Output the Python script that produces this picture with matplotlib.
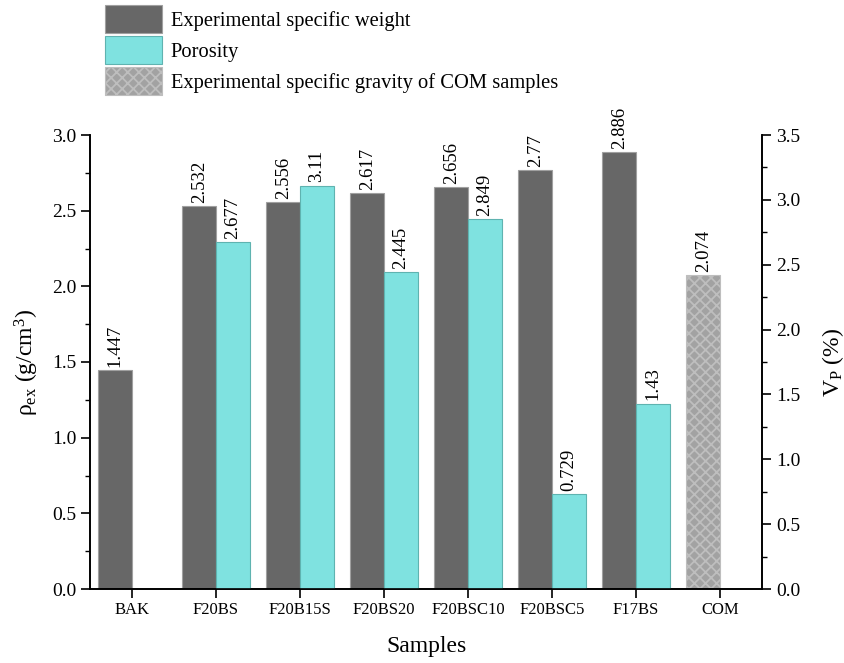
import numpy as np
import matplotlib
matplotlib.use("Agg")
import matplotlib.pyplot as plt
from matplotlib.ticker import MultipleLocator

plt.rcParams['font.family'] = ['Liberation Serif', 'DejaVu Serif']
plt.rcParams['mathtext.fontset'] = 'custom'
plt.rcParams['mathtext.rm'] = 'Liberation Serif'
plt.rcParams['mathtext.it'] = 'Liberation Serif:italic'
plt.rcParams['hatch.linewidth'] = 1.3

# sample data
samples = ['BAK', 'F20BS', 'F20B15S', 'F20BS20', 'F20BSC10', 'F20BSC5', 'F17BS', 'COM']
spec_weight = [1.447, 2.532, 2.556, 2.617, 2.656, 2.77, 2.886]
porosity = [None, 2.677, 3.11, 2.445, 2.849, 0.729, 1.43]
com_gravity = 2.074

dark = '#676767'
cyan = '#7fe2e0'
w = 0.4

fig = plt.figure(figsize=(8.44, 6.63), dpi=100)
ax = fig.add_axes([90/844, 1-589/663, 672/844, 454/663])
ax2 = ax.twinx()

x = np.arange(len(samples))
xw = x[:len(spec_weight)]
b1 = ax.bar(xw, spec_weight, width=-w, align='edge', color=dark,
            edgecolor='#a0a0a0', linewidth=0.8, label='Experimental specific weight')
for xi, v in zip(xw, spec_weight):
    ax.text(xi - w/2, v + 0.02, str(v), rotation=90, ha='center', va='bottom', fontsize=13.5)

bc = ax.bar(x[-1], com_gravity, width=-w, align='edge', color='#a2a2a2',
            edgecolor='#bebebe', hatch='xxx', linewidth=0.8,
            label='Experimental specific gravity of COM samples')
ax.text(x[-1] - w/2, com_gravity + 0.02, str(com_gravity), rotation=90,
        ha='center', va='bottom', fontsize=13.5)

px = [xi for xi, p in zip(xw, porosity) if p is not None]
pv = [p for p in porosity if p is not None]
b2 = ax2.bar(px, pv, width=w, align='edge', color=cyan, edgecolor='#5fb3b0',
             linewidth=0.8, label='Porosity')
for xi, v in zip(px, pv):
    ax2.text(xi + w/2, v + 0.025, str(v), rotation=90, ha='center', va='bottom', fontsize=13.5)

ax.set_xlim(-0.5, 7.5)
ax.set_ylim(0, 3.0)
ax2.set_ylim(0, 3.5)
ax.set_xticks(x)
ax.set_xticklabels(samples, fontsize=12)
ax.yaxis.set_major_locator(MultipleLocator(0.5))
ax.yaxis.set_minor_locator(MultipleLocator(0.25))
ax2.yaxis.set_major_locator(MultipleLocator(0.5))
ax2.yaxis.set_minor_locator(MultipleLocator(0.25))
ax.yaxis.set_major_formatter(matplotlib.ticker.FormatStrFormatter('%.1f'))
ax2.yaxis.set_major_formatter(matplotlib.ticker.FormatStrFormatter('%.1f'))

for a in (ax, ax2):
    a.spines['top'].set_visible(False)
    for s in a.spines.values():
        s.set_linewidth(1.2)
    a.tick_params(axis='both', which='major', direction='out', length=6.5, width=1.2, labelsize=14)
    a.tick_params(axis='both', which='minor', direction='out', length=3.5, width=1.0)
ax.tick_params(axis='x', labelsize=12, pad=3)

ax.set_xlabel('Samples', fontsize=17, labelpad=13)
ax.set_ylabel(r'ρ$_{\mathrm{ex}}$ (g/cm$^{3}$)', fontsize=17, labelpad=8)
ax2.set_ylabel(r'V$_{\mathrm{P}}$ (%)', fontsize=17, labelpad=14)

handles = [b1, b2, bc]
labels = [h.get_label() for h in handles]
fig.legend(handles, labels, loc='upper left', bbox_to_anchor=(105/844, 1-5/663),
           frameon=False, fontsize=14.8, handlelength=2.75, handleheight=1.7,
           labelspacing=0.17, handletextpad=0.45, borderpad=0, borderaxespad=0)

fig.savefig('out.png', dpi=100)
